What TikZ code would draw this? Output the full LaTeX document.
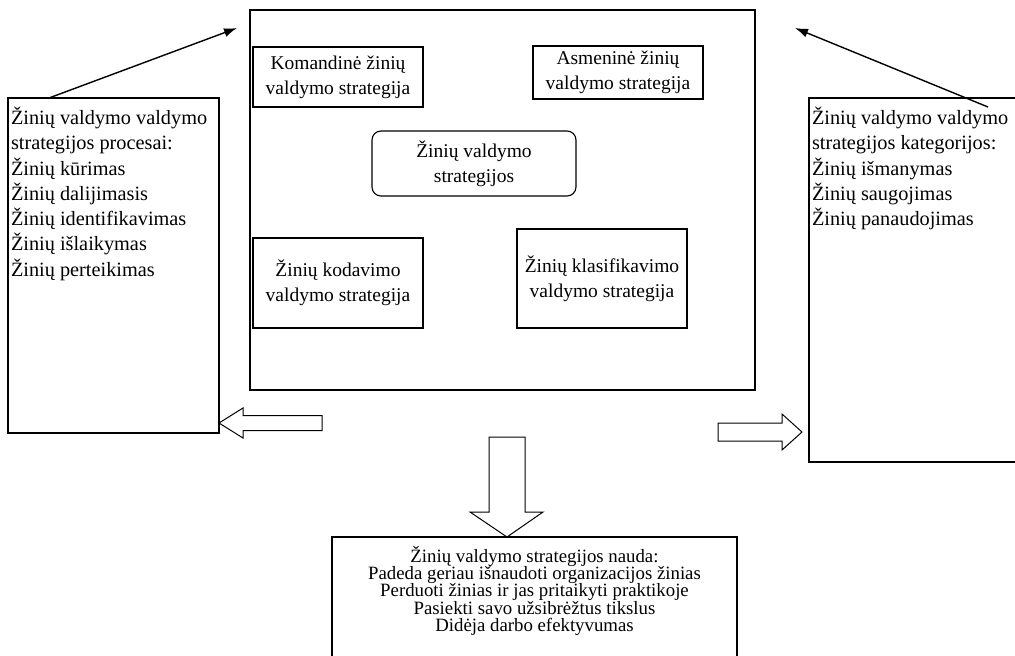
\documentclass[tikz,border=0pt]{standalone}
\usepackage{fontspec}
\setmainfont{Liberation Serif}
\usetikzlibrary{arrows.meta}

\begin{document}
\begin{tikzpicture}[x=1pt, y=-1pt, >={Latex[length=13pt,width=9pt]}, line width=1.1pt,
    box/.style={draw, rectangle, inner sep=0pt},
    mid/.style={font=\fontsize{19.5}{25.3}\selectfont, align=center},
    side/.style={font=\fontsize{20.3}{25.3}\selectfont, align=left, anchor=north west, inner xsep=3pt, inner ysep=9pt},
    hollow/.style={draw, fill=white, line width=1pt}]
    \useasboundingbox (0,0) rectangle (1015,656);
    \clip (0,0) rectangle (1015,656);

    % Nodes {frame, inner strategies, side lists, benefits}
    \node [box]                      (frame)  at (502.5,200) [minimum width=505, minimum height=380] {};
    \node [box, mid]                 (komand) at (338,77)    [minimum width=170, minimum height=60]  {Komandinė žinių\\valdymo strategija};
    \node [box, mid]                 (asmen)  at (618,72.5)  [minimum width=170, minimum height=53]  {Asmeninė žinių\\valdymo strategija};
    \node [box, mid, rounded corners=9pt] (strat) at (474,163.5) [minimum width=204, minimum height=65] {Žinių valdymo\\strategijos};
    \node [box, mid]                 (kodav)  at (338,283)   [minimum width=170, minimum height=90]  {Žinių kodavimo\\valdymo strategija};
    \node [box, mid]                 (klasif) at (602,278.5) [minimum width=170, minimum height=99]  {Žinių klasifikavimo\\valdymo strategija};

    \node [box]                      (proc)   at (113.5,265.5) [minimum width=211, minimum height=335] {};
    \node [side]                     (proctxt) at (proc.north west) {Žinių valdymo valdymo\\strategijos procesai:\\Žinių kūrimas\\Žinių dalijimasis\\Žinių identifikavimas\\Žinių išlaikymas\\Žinių perteikimas};

    \node [box]                      (kateg)  at (919.5,280) [minimum width=221, minimum height=364] {};
    \node [side]                     (kategtxt) at (kateg.north west) {Žinių valdymo valdymo\\strategijos kategorijos:\\Žinių išmanymas\\Žinių saugojimas\\Žinių panaudojimas};

    \node [box]                      (nauda)  at (534.5,618.5) [minimum width=405, minimum height=163] {};
    \node [font=\fontsize{18.8}{17.4}\selectfont, align=center, anchor=north, inner ysep=9pt] (naudatxt) at (nauda.north) {Žinių valdymo strategijos nauda:\\Padeda geriau išnaudoti organizacijos žinias\\Perduoti žinias ir jas pritaikyti praktikoje\\Pasiekti savo užsibrėžtus tikslus\\Didėja darbo efektyvumas};

    \coordinate (procpin)  at (49,98);
    \coordinate (kategpin) at (988,107);
    \coordinate (frameL)   at (237,28);
    \coordinate (frameR)   at (795,28);

    % Paths
    \path [->, line width=1.4pt] (procpin)  edge (frameL);
    \path [->, line width=1.4pt] (kategpin) edge (frameR);

    % Hollow arrows
    \draw [hollow] (219,423) -- (243,408) -- (243,415.5) -- (322,415.5) -- (322,430.5) -- (243,430.5) -- (243,438) -- cycle;
    \draw [hollow] (802,432) -- (782,414) -- (782,423) -- (718,423) -- (718,441) -- (782,441) -- (782,450) -- cycle;
    \draw [hollow] (507,537) -- (470,512) -- (489,512) -- (489,437) -- (525,437) -- (525,512) -- (543,512) -- cycle;
\end{tikzpicture}
\end{document}
